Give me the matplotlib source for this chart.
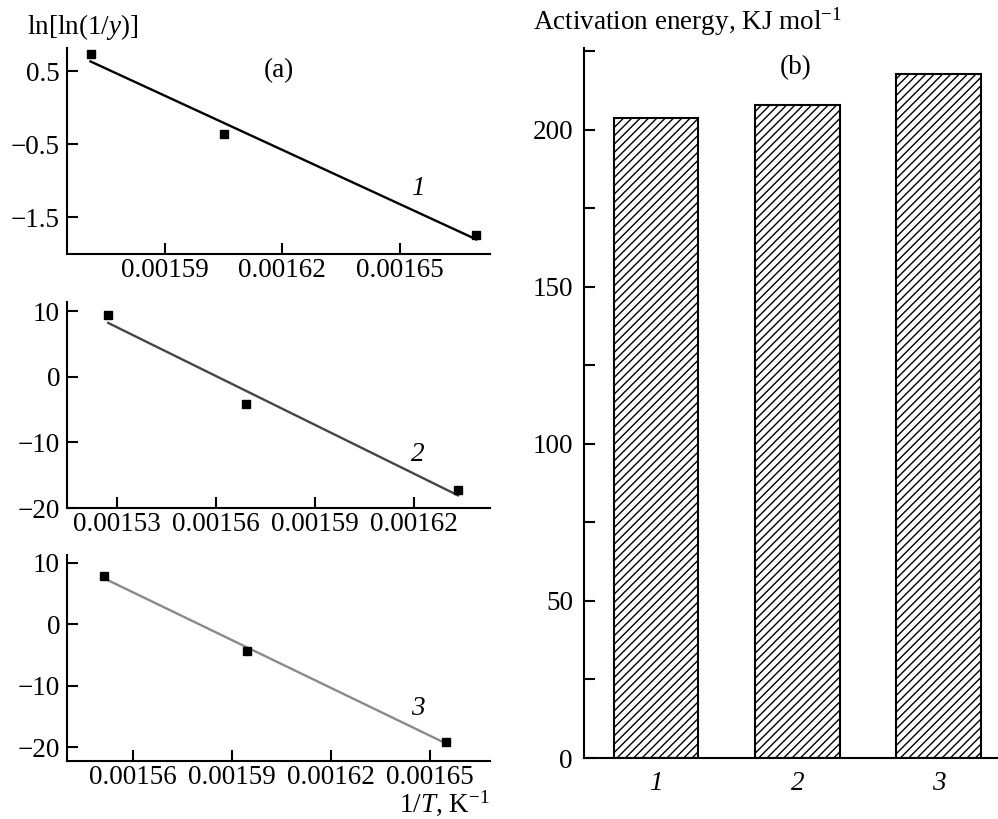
import numpy as np
import matplotlib
matplotlib.use("Agg")
import matplotlib.pyplot as plt

plt.rcParams['font.family'] = ['Liberation Serif', 'DejaVu Serif']
plt.rcParams['mathtext.fontset'] = 'custom'
plt.rcParams['mathtext.rm'] = 'Liberation Serif'
plt.rcParams['mathtext.it'] = 'Liberation Serif:italic'
plt.rcParams['font.size'] = 19.5
plt.rcParams['hatch.linewidth'] = 1.0

# panel (a): Arrhenius-type plots, three samples
x1 = [0.001571, 0.001605, 0.0016695]
y1 = [0.733, -0.363, -1.747]
x2 = [0.0015273, 0.001569, 0.0016333]
y2 = [9.4, -4.1, -17.3]
x3 = [0.0015512, 0.0015945, 0.0016548]
y3 = [7.8, -4.3, -19.1]

# panel (b): activation energies
samples = ['1', '2', '3']
energy = [203.8, 207.7, 217.8]

fig = plt.figure(figsize=(9.98, 8.19), dpi=100)

W, H = 998.0, 819.0
def box(l, t, r, b):
    return [l / W, 1 - b / H, (r - l) / W, (b - t) / H]

ax1 = fig.add_axes(box(67, 48, 490, 254))
ax2 = fig.add_axes(box(67, 302, 490, 508))
ax3 = fig.add_axes(box(67, 555, 490, 761))
axb = fig.add_axes(box(584, 48, 998, 758))

panels = [
    (ax1, x1, y1, 'black', (0.001565, 0.001673), (-2.0, 0.815), [0.5, -0.5, -1.5],
     [0.00159, 0.00162, 0.00165], '1', (0.0016546, -1.1)),
    (ax2, x2, y2, '#454545', (0.0015148, 0.001643), (-20, 11.4), [10, 0, -10, -20],
     [0.00153, 0.00156, 0.00159, 0.00162], '2', (0.0016212, -11.8)),
    (ax3, x3, y3, '#8a8a8a', (0.00154, 0.0016682), (-22.2, 11.25), [10, 0, -10, -20],
     [0.00156, 0.00159, 0.00162, 0.00165], '3', (0.0016464, -13.6)),
]

for ax, xs, ys, col, xl, yl, yt, xt, lab, lpos in panels:
    k, b = np.polyfit(xs, ys, 1)
    xf = np.array([xs[0], xs[-1]])
    ax.plot(xf, k * xf + b, color=col, lw=1.7, zorder=2)
    ax.plot(xs, ys, 's', color='black', ms=6, zorder=3)
    ax.set_xlim(*xl)
    ax.set_ylim(*yl)
    ax.set_yticks(yt)
    ax.set_xticks(xt)
    ax.set_xticklabels([f'{v:.5f}' for v in xt])
    ax.set_yticklabels([f'{v:g}'.replace('-', '\u2212') for v in yt])
    ax.spines['top'].set_visible(False)
    ax.spines['right'].set_visible(False)
    for s in ('left', 'bottom'):
        ax.spines[s].set_linewidth(1.5)
    ax.tick_params(direction='in', length=8, width=1.5, pad=5)
    ax.tick_params(axis='x', pad=3)
    ax.text(lpos[0], lpos[1], lab, style='italic', ha='center', va='center')

ax1.text(0.5, 0.89, '(a)', transform=ax1.transAxes, ha='center', va='center')

# panel (b)
pos = np.arange(1, len(samples) + 1)
axb.bar(pos, energy, width=0.6, facecolor='white', edgecolor='black',
        linewidth=1.5, hatch='////')
axb.set_xlim(0.49, 3.42)
axb.set_ylim(0, 226)
axb.set_yticks([0, 50, 100, 150, 200])
axb.set_yticks([25, 75, 125, 175, 225], minor=True)
axb.set_xticks(pos)
axb.set_xticklabels(samples, style='italic')
axb.spines['top'].set_visible(False)
axb.spines['right'].set_visible(False)
for s in ('left', 'bottom'):
    axb.spines[s].set_linewidth(1.5)
axb.tick_params(axis='y', which='both', direction='in', length=8, width=1.5, pad=8)
axb.tick_params(axis='x', length=0, pad=9)
axb.text(0.51, 0.973, '(b)', transform=axb.transAxes, ha='center', va='center')

fig.text(27 / W, 1 - 27 / H, r'ln[ln(1/$y$)]', ha='left', va='center')
fig.text(533 / W, 1 - 22 / H, r'Activation energy, KJ mol$^{-1}$', ha='left', va='center')
fig.text(490 / W, 1 / H, r'1/$T$, K$^{-1}$', ha='right', va='bottom')

fig.savefig('out.png', dpi=100)
